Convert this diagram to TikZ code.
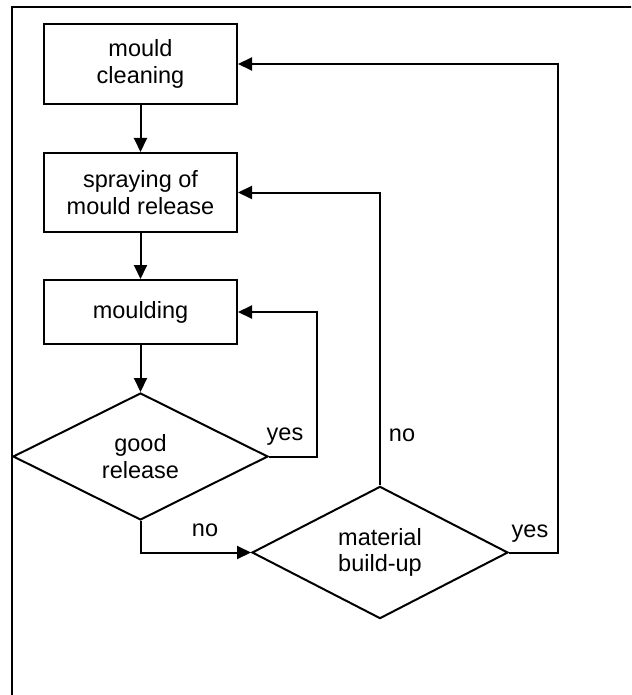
\documentclass[tikz,border=0pt]{standalone}
\usepackage{fontspec}
\setmainfont{Liberation Sans}
\usetikzlibrary{shapes.geometric,arrows.meta}
\begin{document}
\begin{tikzpicture}[x=1pt,y=-1pt,
  every node/.style={font=\fontsize{23.5}{26.7}\selectfont},
  boxnode/.style={draw,line width=2pt,minimum width=193pt,inner sep=0pt,align=center},
  decision/.style={draw,diamond,line width=2pt,inner sep=0pt,align=center},
  lbl/.style={anchor=base,inner sep=0pt},
  arr/.style={line width=2pt,-{Triangle[length=14pt,width=13pt]}},
  ln/.style={line width=2pt}]
\useasboundingbox (0,0) rectangle (631,695);
\clip (0,0) rectangle (631,695);
\draw[line width=2.2pt] (12,705) -- (12,7) -- (640,7);
\node[boxnode,minimum height=80pt] (b1) at (140.5,64) {mould\\cleaning};
\node[boxnode,minimum height=79pt] (b2) at (140.5,192.5) {spraying of\\mould release};
\node[boxnode,minimum height=64pt] (b3) at (140.5,312) {moulding};
\node[decision,minimum width=255pt,minimum height=127pt] (d1) at (140.5,456.5) {good\\release};
\node[decision,minimum width=256pt,minimum height=128pt] (d2) at (380,552.5) {material\\build-up};
\coordinate (r1) at (317,456.5);
\coordinate (r3) at (558,552.5);
\draw[arr] (b1) -- (b2);
\draw[arr] (b2) -- (b3);
\draw[arr] (b3) -- (d1);
\draw[arr] (d1.east) -- (r1) |- (b3.east);
\draw[arr] (d1.south) |- (d2.west);
\draw[arr] (d2.north) |- (b2.east);
\draw[arr] (d2.east) -- (r3) |- (b1.east);
\node[lbl] (y1) at (285,440) {yes};
\node[lbl] (n1) at (205,536) {no};
\node[lbl] (n2) at (402,441) {no};
\node[lbl] (y2) at (530,537) {yes};
\end{tikzpicture}
\end{document}
